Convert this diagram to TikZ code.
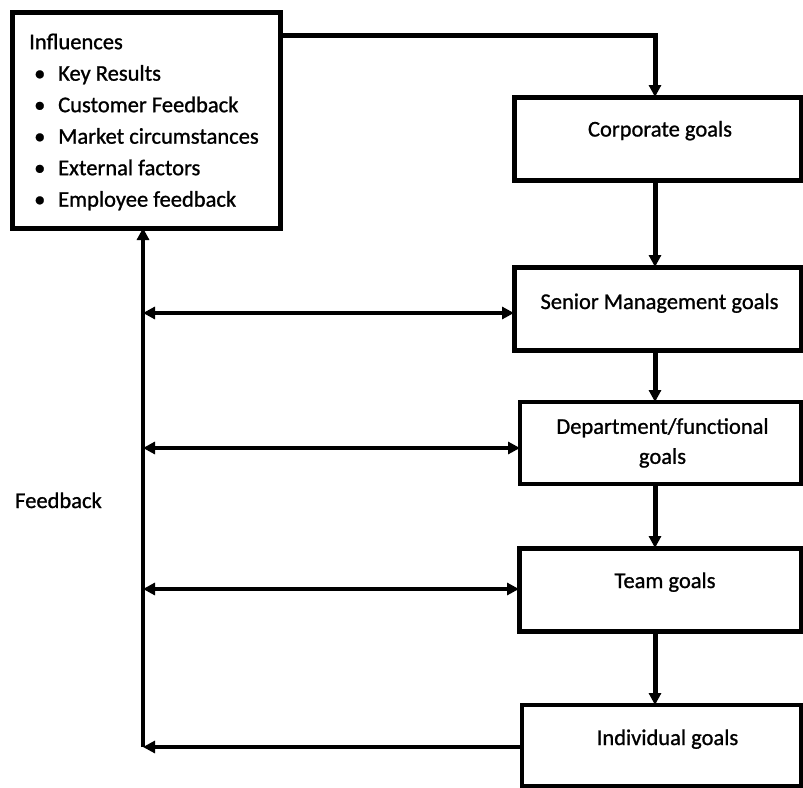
\documentclass[tikz,border=0pt]{standalone}
\usepackage{fontspec}
\setmainfont{Carlito}[UprightFeatures={FakeBold=1.0}]
\usetikzlibrary{arrows.meta}
\newcommand\blt{\makebox[29pt][l]{\hspace{5pt}•}}
\begin{document}
\begin{tikzpicture}[x=1pt,y=-1pt,
  box/.style={draw=black, fill=white, inner sep=0pt, outer sep=0pt, anchor=north west},
  heavybox/.style={box, line width=5pt},
  lightbox/.style={box, line width=3.5pt},
  lbl/.style={font=\fontsize{22.5}{30}\selectfont, inner sep=0pt, anchor=base},
  tip/.tip={Triangle[length=12pt,width=12pt]},
  conn/.style={line width=5pt, -tip},
  fback/.style={line width=3.5pt, -tip},
  both/.style={line width=3.5pt, tip-tip},
]
\useasboundingbox (0,0) rectangle (803,787);

% boxes
\node[heavybox, minimum width=268pt, minimum height=216pt] (infl) at (12,12) {};
\node[heavybox, minimum width=287pt, minimum height=83pt] (corp) at (514,97) {};
\node[heavybox, minimum width=287pt, minimum height=83pt] (senior) at (514,267) {};
\node[lightbox, minimum width=281pt, minimum height=82pt] (dept) at (520,402) {};
\node[heavybox, minimum width=282pt, minimum height=83pt] (team) at (519,548) {};
\node[lightbox, minimum width=279pt, minimum height=81pt] (indiv) at (522,705) {};

% texts
\node[lbl, anchor=north west, align=left, font=\fontsize{22.5}{31.5}\selectfont] (infltext) at (29,33.5)
  {Influences\\ \blt Key Results\\ \blt Customer Feedback\\ \blt Market circumstances\\ \blt External factors\\ \blt Employee feedback};
\node[lbl] (corptext) at (660,136.5) {Corporate goals};
\node[lbl] (seniortext) at (659.5,309) {Senior Management goals};
\node[lbl, anchor=north, align=center] (depttext) at (662.5,418) {Department/functional\\goals};
\node[lbl] (teamtext) at (665,588) {Team goals};
\node[lbl] (indivtext) at (667.5,745) {Individual goals};
\node[lbl, anchor=base west] (fbtext) at (15,508) {Feedback};

% downward chain
\coordinate (bend) at (655,35);
\draw[conn] (infl.east |- bend) -| (corp.north -| bend);
\draw[conn] (corp.south -| bend) -- (senior.north -| bend);
\draw[conn] (senior.south -| bend) -- (dept.north -| bend);
\draw[conn] (dept.south -| bend) -- (team.north -| bend);
\draw[conn] (team.south -| bend) -- (indiv.north -| bend);

% feedback loop
\coordinate (fb) at (143,747);
\draw[fback] (indiv.west |- fb) -- (fb);
\draw[fback] (fb) -- (infl.south -| fb);
\draw[both] (fb |- 0,313) -- (senior.west |- 0,313);
\draw[both] (fb |- 0,448) -- (dept.west |- 0,448);
\draw[both] (fb |- 0,589) -- (team.west |- 0,589);
\end{tikzpicture}
\end{document}
